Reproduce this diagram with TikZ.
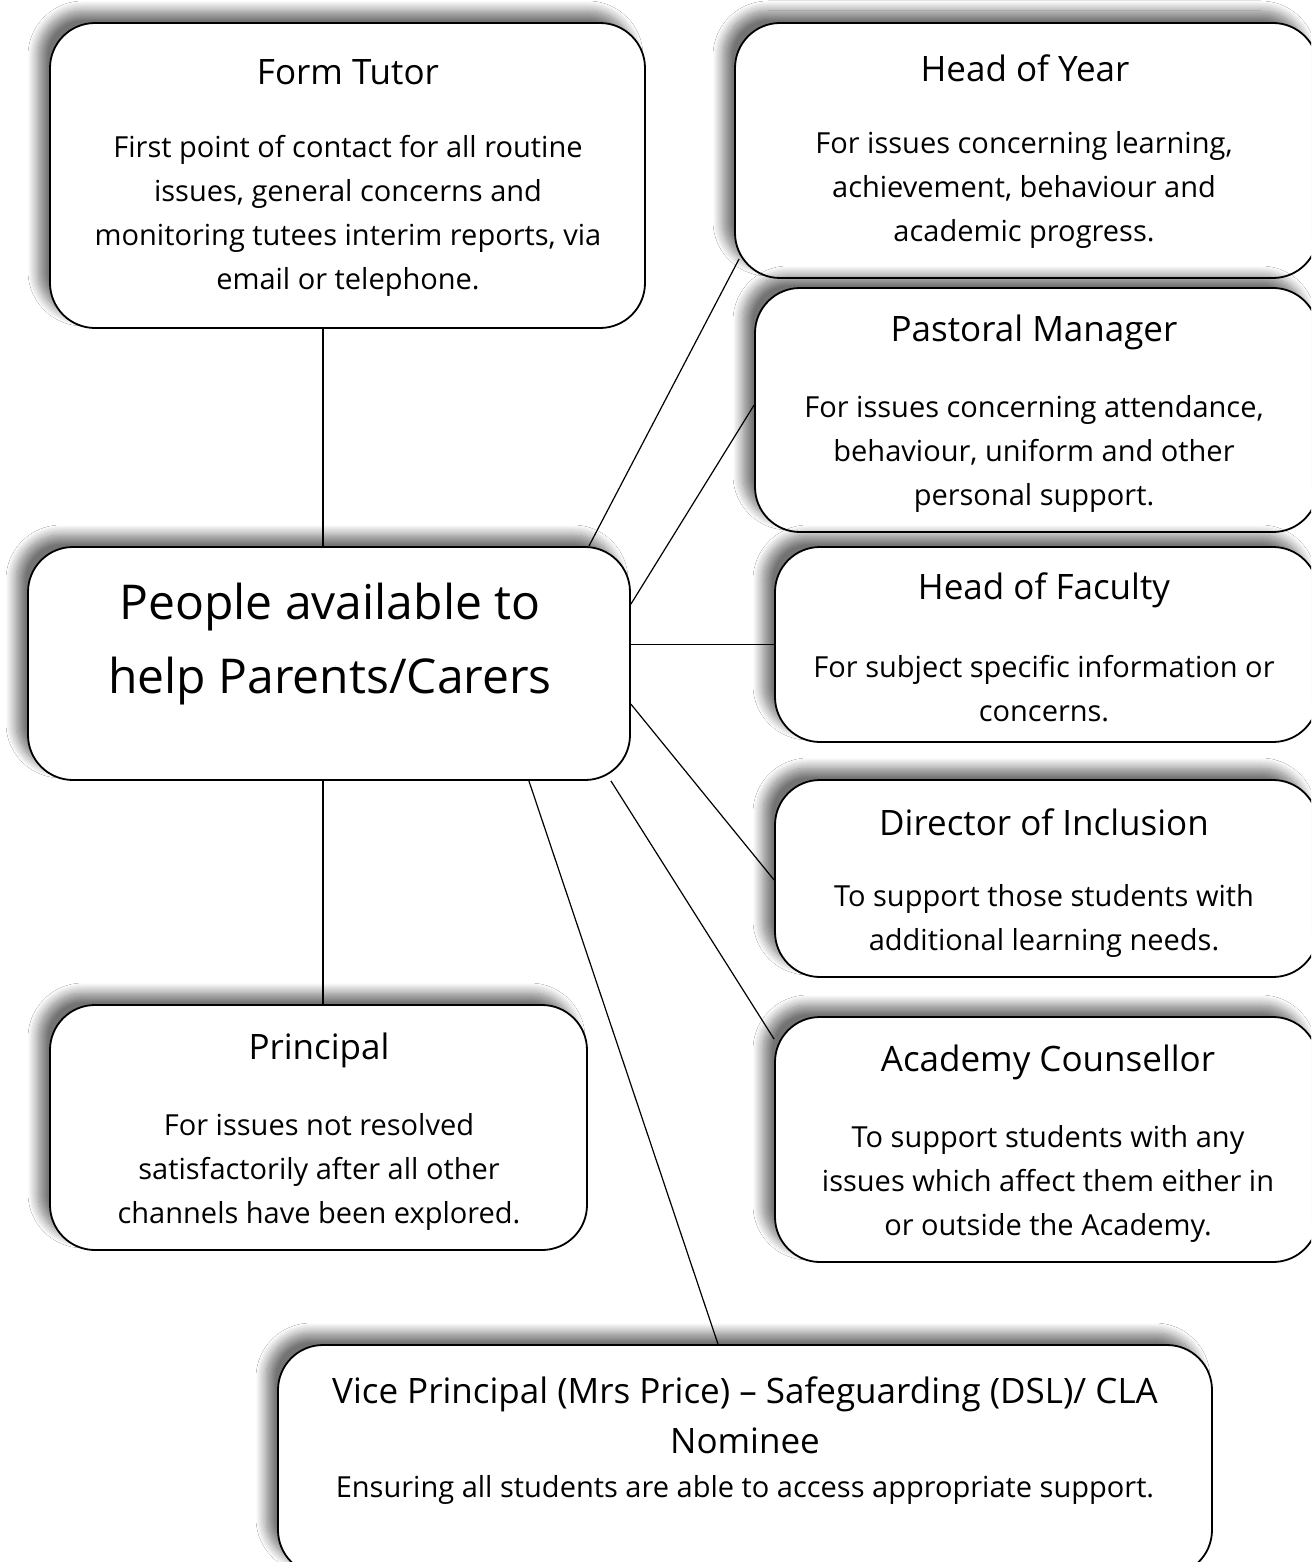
\documentclass[tikz,border=0pt]{standalone}
\usepackage{fontspec}
\setmainfont{Open Sans}
\usetikzlibrary{shadows.blur}
\begin{document}
\begin{tikzpicture}[x=1pt,y=-1pt,
  box/.style={draw=black,line width=1.8pt,fill=white,rounded corners=45pt,inner sep=0pt,
    blur shadow={shadow xshift=-12pt,shadow yshift=12pt,shadow blur radius=10pt,shadow blur steps=14,shadow opacity=55}},
  ttl/.style={font=\fontsize{35}{40}\selectfont,align=center,inner sep=0pt},
  bdy/.style={font=\fontsize{29}{44}\selectfont,align=center,inner sep=0pt},
  big/.style={font=\fontsize{48}{74}\selectfont,align=center,inner sep=0pt},
  link/.style={draw=black,line width=1.2pt}]
\useasboundingbox (0,0) rectangle (1311,1562);
\clip (0,0) rectangle (1311,1562);
\fill[white] (0,0) rectangle (1311,1562);
% boxes
\node[box,minimum width=595pt,minimum height=305pt] (ft) at (347.5,175.5) {};
\node[box,minimum width=583pt,minimum height=255pt] (hoy) at (1026.5,150.5) {};
\node[box,minimum width=563pt,minimum height=244pt] (pm) at (1036.5,410) {};
\node[box,minimum width=543pt,minimum height=195pt] (hof) at (1046.5,644.5) {};
\node[box,minimum width=543pt,minimum height=197pt] (doi) at (1046.5,878.5) {};
\node[box,minimum width=543pt,minimum height=245pt] (ac) at (1046.5,1139.5) {};
\node[box,minimum width=602pt,minimum height=233pt] (cen) at (329,663.5) {};
\node[box,minimum width=537pt,minimum height=245pt] (prin) at (318.5,1127.5) {};
\node[box,minimum width=934pt,minimum height=230pt] (vp) at (745,1460) {};
% connectors
\draw[link] ([xshift=-6pt]cen.north) -- ([xshift=-24.5pt]ft.south);
\draw[link] ([xshift=-42pt]cen.north east) -- ([xshift=5pt,yshift=20pt]hoy.south west);
\draw[link] ([yshift=-58pt]cen.north east) -- ([yshift=5pt]pm.west);
\draw[link] (cen.east |- hof.west) -- (hof.west);
\draw[link] ([yshift=-158pt]cen.north east) -- ([yshift=-1.5pt]doi.west);
\draw[link] ([xshift=-20pt]cen.south east) -- ([yshift=-23pt]ac.north west);
\draw[link] ([xshift=-102pt]cen.south east) -- ([xshift=-27pt]vp.north);
\draw[link] ([xshift=-6pt]cen.south) -- ([xshift=4.5pt]prin.north);
% texts
\node[ttl] (ftT) at (348,72) {Form Tutor};
\node[bdy] (ftB) at (348,216) {First point of contact for all routine\\issues, general concerns and\\monitoring tutees interim reports, via\\email or telephone.};
\node[ttl] (hoyT) at (1025,68) {Head of Year};
\node[bdy] (hoyB) at (1024,190) {For issues concerning learning,\\achievement, behaviour and\\academic progress.};
\node[ttl] (pmT) at (1034,332) {Pastoral Manager};
\node[bdy] (pmB) at (1034,454) {For issues concerning attendance,\\behaviour, uniform and other\\personal support.};
\node[ttl] (hofT) at (1044,590) {Head of Faculty};
\node[bdy] (hofB) at (1044,689) {For subject specific information or\\concerns.};
\node[ttl] (doiT) at (1044,822) {Director of Inclusion};
\node[bdy] (doiB) at (1044,921) {To support those students with\\additional learning needs.};
\node[ttl] (acT) at (1048,1062) {Academy Counsellor};
\node[bdy] (acB) at (1048,1184) {To support students with any\\issues which affect them either in\\or outside the Academy.};
\node[big] (cenT) at (330,644) {People available to\\help Parents/Carers};
\node[ttl] (prinT) at (319,1050) {Principal};
\node[bdy] (prinB) at (319,1172) {For issues not resolved\\satisfactorily after all other\\channels have been explored.};
\node[ttl,font=\fontsize{35}{50}\selectfont] (vpT) at (745,1415) {Vice Principal (Mrs Price) -- Safeguarding (DSL)/ CLA\\Nominee};
\node[bdy] (vpB) at (745,1490) {Ensuring all students are able to access appropriate support.};
\end{tikzpicture}
\end{document}
